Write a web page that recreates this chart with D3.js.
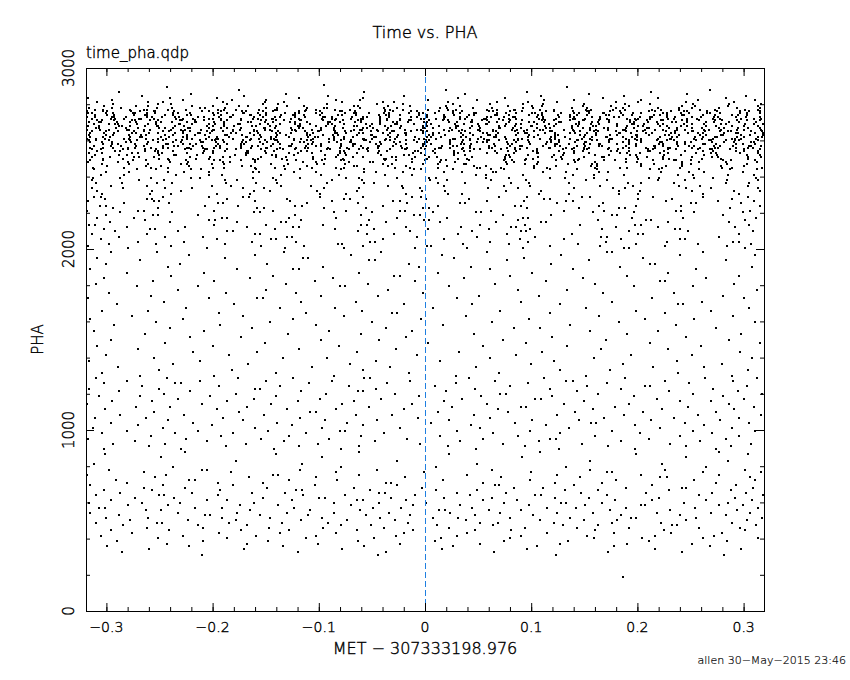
<!DOCTYPE html>
<html>
<head>
<meta charset="utf-8">
<script src="https://cdn.jsdelivr.net/npm/d3@7"></script>
<style>
  body { margin: 0; background: #fff; }
  svg text { font-family: "DejaVu Sans", sans-serif; font-weight: 200; fill: #000; stroke: #000; stroke-width: 0.4px; }
</style>
</head>
<body>
<div id="chart"></div>
<script>
// x ticks (seconds from MET 307333198.976) and PHA ticks
const xMajorTicks = [-0.3, -0.2, -0.1, 0, 0.1, 0.2, 0.3];
const xTickLabels = ["\u22120.3", "\u22120.2", "\u22120.1", "0", "0.1", "0.2", "0.3"];
const yMajorTicks = [0, 1000, 2000, 3000];
const yTickLabels = ["0", "1000", "2000", "3000"];

// events: [PHA, [time offsets in ms]]
const topRows = [
  [2905,[-95]],
  [2893,[-243,134]],
  [2878,[-175,20,268]],
  [2866,[-288,-57,96,213]],
  [2854,[-220,-131,38,154,247]],
  [2843,[-266,-170,-91,-20,109,187,302]],
  [2832,[-317,-240,-196,-119,-58,31,75,168,219,283]],
  [2821,[-295,-228,-182,-150,-84,-61,3,49,112,140,203,257,311]],
  [2810,[-309,-261,-247,-190,-151,-133,-78,-40,-29,22,68,97,124,180,201,246,291]],
  [2800,[316,286,252,212,188,150,111,92,61,26,-21,-45,-92,-138,-153,-186,-239,-251,-294]],
  [2790,[-302,-272,-261,-219,-200,-175,-167,-130,-114,-67,-63,-35,-14,20,33,78,101,110,149,175,192,242,254,285,314]],
  [2780,[-316,-295,-286,-252,-238,-212,-207,-188,-150,-139,-111,-95,-92,-61,-39,-26,14,21,45,63,92,102,138,153,180,186,219,239,251,277,294,315]],
  [2770,[-311,-303,-278,-265,-262,-242,-225,-195,-189,-178,-156,-141,-139,-112,-103,-85,-71,-38,-33,-21,3,22,29,58,68,84,85,108,121,152,156,177,188,214,222,239,259,273,301,314]],
  [2760,[-318,-303,-299,-277,-268,-255,-254,-236,-210,-203,-192,-172,-169,-153,-143,-119,-113,-99,-80,-78,-66,-38,-30,-13,-8,13,26,35,60,64,80,91,114,121,139,153,154,174,184,211,217,232,244,247,266,275,297,305,315]]
];

const coreRows = [
  [2750,[-317,-314,-300,-294,-275,-273,-262,-254,-237,-233,-221,-200,-195,-186,-171,-170,-157,-150,-132,-122,-119,-103,-97,-75,-67,-65,-53,-39,-34,-15,-6,-2,9,26,33,46,48,68,76,86,101,104,110,128,140,145,154,168,169,185,196,203,224,228,241,249,266,268,278,297,303,315]],
  [2740,[-311,-299,-293,-274,-264,-262,-245,-237,-224,-220,-199,-192,-181,-165,-164,-155,-150,-136,-124,-122,-114,-99,-82,-78,-65,-43,-37,-34,-24,-6,1,2,18,27,41,46,66,68,79,98,106,110,125,137,143,153,170,173,186,195,216,221,228,242,244,262,273,289,295,303]],
  [2730,[-318,-311,-295,-293,-282,-262,-257,-248,-235,-232,-214,-208,-194,-184,-183,-161,-153,-141,-137,-122,-113,-96,-94,-88,-69,-58,-55,-42,-34,-13,-8,2,18,19,33,40,58,62,74,83,85,105,111,126,137,140,157,165,178,183,202,212,214,228,235,251,260,272,276,293,302,315]],
  [2720,[-314,-296,-292,-283,-269,-267,-255,-234,-228,-218,-203,-200,-192,-173,-162,-157,-144,-143,-126,-119,-97,-88,-84,-70,-60,-58,-42,-36,-24,-4,-1,10,18,33,38,56,57,70,79,86,107,111,123,139,141,151,165,171,190,198,201,212,229,234,247,256,271,278,298,310,316]],
  [2710,[-309,-304,-293,-276,-273,-259,-251,-231,-229,-217,-208,-192,-186,-173,-154,-150,-140,-133,-118,-117,-96,-85,-77,-63,-60,-42,-36,-24,-15,-13,4,17,22,44,54,58,73,80,91,110,113,121,137,149,150,164,173,193,199,209,222,224,242,247,258,273,280,294,303,315]],
  [2700,[-316,-307,-305,-290,-278,-272,-253,-249,-238,-224,-217,-216,-199,-189,-167,-164,-151,-143,-127,-122,-111,-91,-89,-80,-66,-60,-42,-30,-26,-16,-1,2,23,30,43,44,60,68,79,98,103,112,126,128,145,157,163,173,193,197,210,218,233,236,247,265,272,286,296,312]],
  [2690,[-312,-298,-292,-289,-271,-261,-253,-232,-231,-219,-203,-198,-189,-176,-174,-155,-148,-137,-122,-118,-108,-91,-88,-76,-56,-50,-42,-28,-26,-10,1,6,28,37,50,57,58,76,86,90,105,117,123,142,145,156,164,181,195,197,206,219,224,244,251,263,279,283,301,310,318]],
  [2680,[-317,-307,-288,-285,-278,-264,-252,-251,-235,-227,-205,-200,-189,-180,-163,-159,-146,-140,-120,-118,-103,-93,-85,-67,-64,-52,-38,-32,-23,-2,2,13,29,31,44,51,70,75,85,100,101,113,121,138,144,158,161,181,190,201,205,221,228,241,247,265,274,289,300,314]],
  [2670,[-310,-307,-291,-282,-270,-250,-245,-237,-223,-221,-203,-192,-186,-173,-152,-151,-141,-126,-119,-115,-98,-86,-77,-58,-55,-49,-35,-24,-2,0,8,24,29,42,52,70,71,83,90,105,114,118,138,149,155,169,172,189,197,209,211,230,237,251,261,277,282,295,304,315]],
  [2660,[-318,-306,-298,-281,-279,-265,-259,-239,-230,-226,-211,-200,-199,-181,-174,-161,-151,-146,-125,-122,-106,-98,-86,-67,-61,-59,-45,-36,-19,-8,-4,18,25,35,50,51,64,82,87,96,108,111,131,139,155,161,172,186,188,207,217,224,237,245,263,267,279,294,300,316]],
  [2650,[317,307,288,285,278,264,252,251,235,227,205,200,189,180,163,159,146,140,120,118,103,93,85,67,64,52,38,32,23,2,-2,-13,-29,-31,-44,-51,-70,-75,-85,-100,-101,-113,-121,-138,-144,-158,-161,-181,-190,-201,-205,-221,-228,-241,-247,-265,-274,-289,-300,-314]],
  [2640,[318,311,295,293,282,262,257,248,235,232,214,208,194,184,183,161,153,141,137,122,113,96,94,88,69,58,55,42,34,13,8,-2,-18,-19,-33,-40,-58,-62,-74,-83,-85,-105,-111,-126,-137,-140,-157,-165,-178,-183,-202,-212,-214,-228,-235,-251,-260,-272,-276,-293,-302,-315]],
  [2630,[318,306,298,281,279,265,259,239,230,226,211,200,199,181,174,161,151,146,125,122,106,98,86,67,61,59,45,36,19,8,4,-18,-25,-35,-50,-51,-64,-82,-87,-96,-108,-111,-131,-139,-155,-161,-172,-186,-188,-207,-217,-224,-237,-245,-263,-267,-279,-294,-300,-316]],
  [2620,[317,314,300,294,275,273,262,254,237,233,221,200,195,186,171,170,157,150,132,122,119,103,97,75,67,65,53,39,34,15,6,2,-9,-26,-33,-46,-48,-68,-76,-86,-101,-104,-110,-128,-140,-145,-154,-168,-169,-185,-196,-203,-224,-228,-241,-249,-266,-268,-278,-297,-303,-315]],
  [2610,[312,298,292,289,271,261,253,232,231,219,203,198,189,176,174,155,148,137,122,118,108,91,88,76,56,50,42,28,26,10,-1,-6,-28,-37,-50,-57,-58,-76,-86,-90,-105,-117,-123,-142,-145,-156,-164,-181,-195,-197,-206,-219,-224,-244,-251,-263,-279,-283,-301,-310,-318]],
  [2600,[314,296,292,283,269,267,255,234,228,218,203,200,192,173,162,157,144,143,126,119,97,88,84,70,60,58,42,36,24,4,1,-10,-18,-33,-38,-56,-57,-70,-79,-86,-107,-111,-123,-139,-141,-151,-165,-171,-190,-198,-201,-212,-229,-234,-247,-256,-271,-278,-298,-310,-316]],
  [2590,[310,307,291,282,270,250,245,237,223,221,203,192,186,173,152,151,141,126,119,115,98,86,77,58,55,49,35,24,2,0,-8,-24,-29,-42,-52,-70,-71,-83,-90,-105,-114,-118,-138,-149,-155,-169,-172,-189,-197,-209,-211,-230,-237,-251,-261,-277,-282,-295,-304,-315]],
  [2580,[311,299,293,274,264,262,245,237,224,220,199,192,181,165,164,155,150,136,124,122,114,99,82,78,65,43,37,34,24,6,-1,-2,-18,-27,-41,-46,-66,-68,-79,-98,-106,-110,-125,-137,-143,-153,-170,-173,-186,-195,-216,-221,-228,-242,-244,-262,-273,-289,-295,-303]],
  [2570,[316,307,305,290,278,272,253,249,238,224,217,216,199,189,167,164,151,143,127,122,111,91,89,80,66,60,42,30,26,16,1,-2,-23,-30,-43,-44,-60,-68,-79,-98,-103,-112,-126,-128,-145,-157,-163,-173,-193,-197,-210,-218,-233,-236,-247,-265,-272,-286,-296,-312]],
  [2560,[309,304,293,276,273,259,251,231,229,217,208,192,186,173,154,150,140,133,118,117,96,85,77,63,60,42,36,24,15,13,-4,-17,-22,-44,-54,-58,-73,-80,-91,-110,-113,-121,-137,-149,-150,-164,-173,-193,-199,-209,-222,-224,-242,-247,-258,-273,-280,-294,-303,-315]]
];

const shoulderRows = [
  [2550,[-314,-305,-284,-280,-264,-253,-226,-220,-207,-205,-186,-178,-154,-139,-134,-122,-92,-89,-72,-62,-55,-33,-19,-18,0,9,35,46,52,72,85,89,105,130,138,150,153,172,182,210,215,229,236,257,268,270,287,300,315]],
  [2540,[-309,-292,-287,-264,-254,-251,-237,-208,-200,-188,-168,-167,-151,-142,-117,-111,-98,-80,-76,-54,-43,-36,-9,-7,8,27,37,42,66,78,86,102,105,126,140,149,175,181,192,210,212,225,245,262,271,293,300,314]],
  [2530,[-316,-304,-276,-270,-251,-248,-224,-209,-200,-169,-167,-150,-128,-120,-106,-80,-75,-64,-44,-11,-4,9,27,31,58,68,84,105,106,131,140,154,184,190,202,221,229,255,269,274,297,314]],
  [2520,[-311,-288,-281,-250,-236,-234,-215,-179,-169,-144,-140,-123,-94,-82,-74,-41,-20,-15,0,27,38,76,79,97,121,130,160,173,193,199,225,241,263,275,303,315]],
  [2510,[316,304,276,270,251,224,209,200,169,167,150,128,120,106,80,75,44,11,4,-9,-27,-31,-58,-68,-84,-105,-131,-140,-154,-184,-190,-202,-221,-255,-269,-274,-297,-314]],
  [2500,[-303,-284,-250,-242,-216,-203,-162,-157,-135,-105,-94,-77,-39,-37,-12,2,31,40,75,95,102,129,145,189,201,224,230,261,279,304]],
  [2490,[311,288,281,250,236,234,215,179,169,144,140,123,94,82,74,41,20,15,0,-27,-38,-76,-79,-97,-121,-130,-160,-173,-193,-199,-225,-241,-263,-275,-303,-315]],
  [2480,[-317,-289,-280,-240,-223,-190,-184,-160,-115,-103,-72,-52,-49,-12,14,28,76,84,106,141,160,189,200,242,258,283,313]],
  [2470,[303,284,250,242,216,203,162,157,135,105,94,77,39,37,12,-2,-31,-40,-75,-95,-102,-129,-145,-189,-201,-224,-230,-261,-279,-304]],
  [2460,[-299,-263,-249,-222,-172,-164,-133,-111,-67,-64,-35,-18,21,46,57,103,123,156,162,203,227,242,279,300]],
  [2450,[317,289,280,240,223,190,184,160,115,103,72,52,49,12,-14,-28,-76,-84,-106,-141,-160,-189,-200,-242,-258,-283,-313]],
  [2440,[-312,-271,-253,-220,-211,-159,-132,-118,-79,-57,-10,-4,26,62,74,118,143,162,212,220,258,287,313]],
  [2425,[299,263,249,222,172,164,133,111,67,64,35,18,-21,-46,-57,-103,-123,-156,-162,-203,-227,-242,-279,-300]],
  [2410,[-305,-283,-234,-203,-191,-136,-98,-81,-38,-12,48,57,92,139,159,187,238,252,285,310]],
  [2395,[312,271,253,220,211,159,132,118,79,57,10,4,-26,-62,-74,-118,-143,-162,-212,-220,-258,-287,-313]],
  [2380,[-314,-269,-246,-188,-177,-140,-88,-59,5,21,62,95,152,171,219,245,284,314]],
  [2365,[305,283,234,203,191,136,98,81,38,12,-48,-57,-92,-139,-159,-187,-238,-252,-285,-310]],
  [2350,[-296,-262,-201,-183,-136,-107,-35,-22,18,74,99,165,196,239,259,304]],
  [2335,[314,269,246,188,177,140,88,59,-5,-21,-62,-95,-152,-171,-219,-245,-284,-314]],
  [2320,[-309,-257,-230,-161,-146,-102,-64,-3,19,76,109,183,202,251,291,315]],
  [2305,[296,262,201,183,136,107,35,22,-18,-74,-99,-165,-196,-239,-259,-304]]
];

const midRows = [
  [2288,[-312,-305,-247,-203,-171,-166,-99,-58,-12,-4,70,96,148,155,215,262,304]],
  [2279,[-301,-262,-257,-186,-130,-76,-71,1,41,112,118,201,233,289]],
  [2263,[-317,-255,-250,-160,-127,-88,-30,-24,58,93,133,139,227,276,310]],
  [2254,[-283,-241,-195,-190,-111,-63,-17,33,38,124,168,250,255,298]],
  [2239,[-306,-300,-207,-176,-122,-116,-40,12,85,90,164,199,241,315]],
  [2227,[-294,-251,-158,-152,-95,-56,-2,4,96,145,183,188,287]],
  [2211,[-318,-270,-265,-199,-143,-74,-24,-19,62,131,169,236,241,306]],
  [2202,[-287,-238,-161,-155,-86,-50,8,48,53,158,197,253,299]],
  [2186,[-300,-256,-251,-214,-122,-60,-10,-5,73,119,176,181,281]],
  [2173,[-309,-274,-191,-186,-128,-84,-26,21,92,97,195,243,312]],
  [2161,[-264,-203,-198,-117,-53,-1,4,88,163,208,213,301]],
  [2148,[-297,-240,-177,-136,-131,-37,14,67,109,114,229,286]],
  [2133,[-316,-311,-199,-150,-96,-60,-55,52,94,146,198,203,305]],
  [2122,[-281,-226,-168,-124,-119,-18,34,81,86,180,219,292]],
  [2109,[-302,-259,-254,-141,-85,-48,3,60,99,167,235,240]],
  [2097,[-292,-233,-186,-181,-63,-14,44,90,95,192,248,309]],
  [2082,[-314,-262,-160,-155,-55,-29,31,77,138,201,205,296]],
  [2068,[-288,-245,-209,-130,-125,-8,49,104,166,171,277]],
  [2056,[-305,-196,-145,-140,-40,18,89,131,185,240,245]],
  [2041,[-270,-227,-163,-121,-52,-47,61,97,170,228,290,296]],
  [2029,[-298,-253,-188,-82,-78,36,79,144,199,257,307]],
  [2014,[-317,-239,-154,-114,-58,2,6,118,165,226,284]],
  [2003,[-280,-205,-132,-76,-9,40,92,187,192,301]],
  [1984,[-296,-252,-133,-41,58,171,176,262]],
  [1969,[-222,-160,-70,16,128,240,311]],
  [1951,[-309,-188,-115,-110,27,93,205]],
  [1938,[-268,-53,-47,77,154,283]],
  [1917,[-300,-231,-149,-15,119,212,217]],
  [1901,[-242,-96,-6,43,184,308]],
  [1889,[-315,-177,-124,-119,61,139,255]],
  [1869,[-281,-208,-62,12,101,229]],
  [1853,[-239,-143,-29,-24,80,190,296]],
  [1840,[-302,-165,-87,37,149,265]],
  [1821,[-256,-199,-104,-9,114,221,226]],
  [1806,[-310,-131,-54,66,160,291]],
  [1793,[-271,-214,-80,-75,23,197,252]],
  [1772,[-233,-150,-35,88,134,313]],
  [1759,[-298,-187,-121,-2,168,234]],
  [1741,[-258,-98,-44,51,107,281]],
  [1727,[-317,-203,-158,-153,30,214,300]],
  [1708,[-246,-117,-65,90,176,261]],
  [1694,[-290,-180,-20,44,127,238,243]],
  [1676,[-225,-137,-85,8,152,305]],
  [1660,[-304,-261,-59,71,199,269]],
  [1647,[-194,-112,-31,-26,118,226]],
  [1628,[-276,-171,-76,39,164,290]],
  [1611,[-315,-228,-124,-4,98,207,253]],
  [1597,[-253,-146,-50,63,183,311]],
  [1582,[-293,-193,-103,17,137,236]],
  [1563,[-240,-163,-37,84,108,274]],
  [1549,[-312,-208,-90,-12,155,219]],
  [1530,[-264,-129,-60,46,190,298]],
  [1516,[-221,-173,-18,120,246]],
  [1499,[-296,-98,-43,73,170,286]],
  [1481,[-245,-151,3,95,212,315]],
  [1466,[-309,-200,-81,55,134,260]],
  [1447,[-270,-119,-27,166,229]],
  [1432,[-218,-158,-64,32,110,297]],
  [1414,[-300,-185,-8,86,194,251]],
  [1398,[-255,-134,-92,61,159,308]],
  [1379,[-316,-212,-46,14,121,237]],
  [1366,[-237,-167,-71,100,186,280]],
  [1347,[-289,-106,-33,48,215,263]],
  [1331,[-250,-182,-58,127,174,304]],
  [1316,[-304,-140,-15,70,238]],
  [1300,[-268,-199,-86,29,152,289]],
  [1286,[-310,-243,-176,-124,-57,-52,41,112,188,264,313]],
  [1271,[-281,-212,-150,-88,-14,66,133,139,226,290]],
  [1259,[-302,-235,-230,-109,-36,29,97,171,249]],
  [1244,[-266,-194,-137,-72,9,80,153,207,212,303]],
  [1229,[-316,-250,-160,-155,-46,47,118,185,271]],
  [1214,[-288,-221,-117,-63,-58,20,143,230,295]],
  [1200,[-246,-178,-93,-28,71,76,163,252,317]],
  [1187,[-307,-268,-202,-140,-6,53,120,197,281]],
  [1171,[-233,-161,-99,-41,35,104,109,218,300]],
  [1158,[-295,-257,-186,-120,-67,18,150,240,269]],
  [1142,[-318,-210,-145,-78,-12,58,131,192,286]],
  [1128,[-272,-240,-168,-53,25,90,95,179,248,310]],
  [1114,[-301,-196,-130,-84,-20,69,158,223,291]],
  [1097,[-255,-175,-108,-103,12,78,141,205,274]],
  [1083,[-287,-227,-152,-65,-31,46,124,187,257,316]],
  [1068,[-311,-263,-190,-118,-7,61,169,234,296]],
  [1054,[-242,-171,-94,-45,23,101,145,213,278]],
  [1039,[-296,-218,-139,-73,6,85,156,161,245,305]],
  [1025,[-270,-201,-125,-58,43,114,198,263]],
  [1010,[-313,-247,-160,-97,-24,52,136,221,289]],
  [996,[-281,-214,-148,-80,-75,30,99,176,252,311]],
  [981,[-304,-235,-181,-112,-39,64,127,202,270]],
  [967,[-258,-192,-128,-60,14,88,160,240,296]],
  [952,[-317,-225,-154,-90,-17,55,118,123,211,283]],
  [937,[-273,-205,-133,-47,33,107,185,259]],
  [923,[-294,-245,-169,-101,-5,73,148,231,307]],
  [909,[-260,-187,-119,-62,22,94,172,246,288]],
  [896,[-302,-230,-142,-79,48,126,198,274]]
];

const lowRows = [
  [881,[-226,-62,108,277]],
  [866,[-301,-140,23,199,304]],
  [849,[-249,-97,91,246]],
  [830,[-178,-26,155,285]],
  [812,[-312,-116,49,223]],
  [795,[-237,-79,10,133,265]],
  [781,[-298,-210,-205,-118,-45,63,155,226,301]],
  [768,[-265,-183,-84,-1,100,171,176,262,316]],
  [752,[-318,-244,-143,-138,-62,40,124,203,277]],
  [739,[-254,-166,-103,-19,72,146,221,228,306]],
  [724,[-291,-222,-217,-128,-83,17,99,180,253,311]],
  [708,[-281,-195,-153,-37,-32,55,122,167,274]],
  [695,[-315,-247,-181,-104,-26,66,70,140,214,293]],
  [682,[-265,-226,-149,-67,-3,84,111,189,242,246,309]],
  [668,[-302,-257,-193,-121,-116,-52,10,49,132,163,230,288]],
  [653,[-287,-219,-163,-132,-43,-38,30,76,147,208,270,302]],
  [641,[-310,-250,-246,-195,-115,-75,-9,42,104,109,171,258,318]],
  [627,[-273,-236,-153,-100,-94,-32,18,63,122,154,220,292]],
  [613,[-296,-205,-186,-125,-64,-58,-18,55,87,179,214,265,308]],
  [599,[-316,-266,-231,-161,-86,-43,1,74,128,133,167,244,285]],
  [584,[-280,-242,-174,-138,-70,-11,33,98,151,203,207,277,299]],
  [571,[-307,-301,-217,-191,-123,-49,-23,44,115,142,189,254,314]],
  [557,[-263,-249,-165,-108,-61,13,19,60,90,174,231,294]],
  [542,[-315,-233,-177,-130,-86,-34,24,71,124,158,218,269,306]],
  [529,[-288,-207,-202,-155,-110,-56,-14,47,102,185,240,283]],
  [515,[-300,-261,-191,-146,-97,-42,8,31,80,137,194,199,255,317]],
  [501,[-278,-223,-178,-117,-73,-28,39,108,150,181,246,303]],
  [488,[-310,-252,-248,-185,-135,-91,-16,52,69,121,176,222,289]],
  [474,[-284,-214,-168,-79,-51,11,64,130,163,233,237,312]],
  [459,[-262,-209,-147,-96,-39,23,94,143,192,258,297]],
  [445,[-296,-241,-173,-128,-64,-11,47,81,160,225,301]],
  [431,[-276,-194,-137,-84,-20,40,115,178,232,280]],
  [417,[-305,-228,-159,-103,-27,30,90,153,217,272]],
  [402,[-251,-186,-112,-48,15,80,159,204,262,314]],
  [388,[-290,-209,-148,-63,9,74,135,211,284]],
  [371,[-243,-168,-101,-24,52,127,190,251]],
  [357,[-299,-222,-134,-57,26,105,178,268]],
  [341,[-260,-170,-78,16,96,217,298]],
  [326,[-285,-120,-37,65,172,242]],
  [311,[-210,-44,123,282]],
  [190,[186]]
];

const W = 850, H = 680;
const svg = d3.select('#chart')
  .append('svg')
  .attr('width', W)
  .attr('height', H);

const plot = { left: 86, right: 764, top: 68, bottom: 611 };

const x = d3.scaleLinear()
  .domain([-0.3192, 0.3192])
  .range([plot.left, plot.right]);

const y = d3.scaleLinear()
  .domain([0, 3000])
  .range([plot.bottom, plot.top]);

const events = [...topRows, ...coreRows, ...shoulderRows, ...midRows, ...lowRows]
  .flatMap(([pha, times]) => times.map(ms => ({ t: ms / 1000, pha })));

// points
svg.append("g")
  .attr("shape-rendering", "crispEdges")
  .selectAll("rect")
  .data(events)
  .join("rect")
  .attr("x", d => Math.round(x(d.t)) - 1)
  .attr("y", d => Math.round(y(d.pha)) - 1)
  .attr("width", 2)
  .attr("height", 2)
  .attr("fill", "#000");

// zero line
svg.append("line")
  .attr("x1", Math.round(x(0)) + 0.5)
  .attr("x2", Math.round(x(0)) + 0.5)
  .attr("y1", plot.top)
  .attr("y2", plot.bottom)
  .attr("stroke", "#1f7fe0")
  .attr("stroke-width", 1)
  .attr("stroke-dasharray", "6,3");

// frame
svg.append("rect")
  .attr("x", plot.left + 0.5)
  .attr("y", plot.top + 0.5)
  .attr("width", plot.right - plot.left)
  .attr("height", plot.bottom - plot.top)
  .attr("fill", "none")
  .attr("stroke", "#000");

// inward ticks on all four sides
const xMinor = x.ticks(32);
const yMinor = y.ticks(15);

function tickAxis(axis, tx, ty, values, size) {
  const g = svg.append("g")
    .attr("transform", `translate(${tx},${ty})`)
    .call(axis.tickValues(values).tickSize(-size).tickFormat(""));
  g.select(".domain").remove();
  g.selectAll(".tick line").attr("stroke", "#000");
  return g;
}

tickAxis(d3.axisBottom(x), 0, plot.bottom, xMinor, 4);
tickAxis(d3.axisTop(x), 0, plot.top, xMinor, 4);
tickAxis(d3.axisBottom(x), 0, plot.bottom, xMajorTicks, 8);
tickAxis(d3.axisTop(x), 0, plot.top, xMajorTicks, 8);
tickAxis(d3.axisLeft(y), plot.left, 0, yMinor, 4);
tickAxis(d3.axisRight(y), plot.right, 0, yMinor, 4);
tickAxis(d3.axisLeft(y), plot.left, 0, yMajorTicks, 8);
tickAxis(d3.axisRight(y), plot.right, 0, yMajorTicks, 8);

// tick labels
svg.append("g")
  .selectAll("text")
  .data(xMajorTicks)
  .join("text")
  .attr("x", d => x(d))
  .attr("y", 632)
  .attr("text-anchor", "middle")
  .style("font-size", "14px")
  .text((d, i) => xTickLabels[i]);

svg.append("g")
  .selectAll("text")
  .data(yMajorTicks)
  .join("text")
  .attr("transform", d => `translate(74,${y(d)}) rotate(-90)`)
  .attr("text-anchor", "middle")
  .style("font-size", "15px")
  .text((d, i) => yTickLabels[i]);

// titles
svg.append("text")
  .attr("x", 425)
  .attr("y", 38)
  .attr("text-anchor", "middle")
  .style("font-size", "16px")
  .text("Time vs. PHA");

svg.append("text")
  .attr("x", plot.left)
  .attr("y", 58)
  .style("font-size", "15px")
  .text("time_pha.qdp");

svg.append("text")
  .attr("transform", `translate(43,${(plot.top + plot.bottom) / 2}) rotate(-90)`)
  .attr("text-anchor", "middle")
  .style("font-size", "15px")
  .text("PHA");

svg.append("text")
  .attr("x", 425)
  .attr("y", 654)
  .attr("text-anchor", "middle")
  .style("font-size", "16px")
  .text("MET \u2212 307333198.976");

svg.append("text")
  .attr("x", 846)
  .attr("y", 664)
  .attr("text-anchor", "end")
  .style("font-size", "11px")
  .style("stroke-width", "0.2px")
  .text("allen 30\u2212May\u22122015 23:46");
</script>
</body>
</html>
